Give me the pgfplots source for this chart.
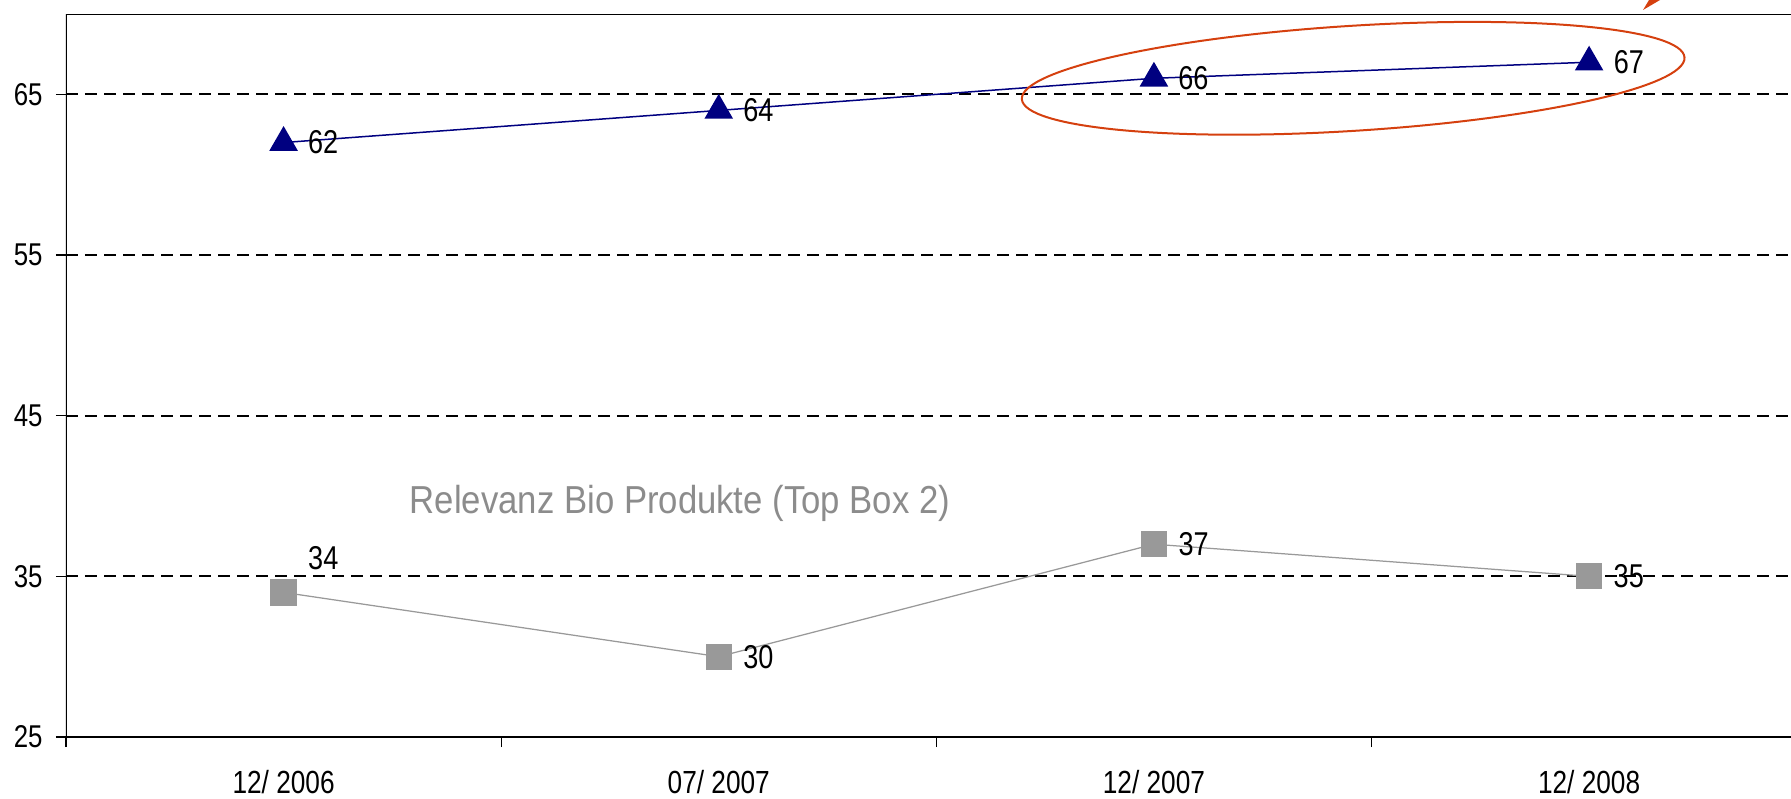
\documentclass[border=0pt]{standalone}
\usepackage{fontspec}
\setmainfont{Liberation Sans}
\newfontfamily\narrow[FakeStretch=0.82]{Liberation Sans}
\newfontfamily\medfont[FakeStretch=0.89]{Liberation Sans}
\usepackage{pgfplots}
\pgfplotsset{compat=1.18}
\definecolor{navyc}{HTML}{000080}
\definecolor{grayc}{HTML}{999999}
\definecolor{redc}{HTML}{D5400F}
\definecolor{txtgray}{HTML}{8C8C8C}
\begin{document}
\begin{tikzpicture}
\path[use as bounding box] (0,0) rectangle (716.4pt,319.2pt);
\begin{axis}[
  at={(26.4pt,24.4pt)}, anchor=south west,
  scale only axis, width=690pt, height=289.2pt,
  xmin=-0.5, xmax=3.464, ymin=25, ymax=70,
  axis line style={draw=none},
  /pgf/number format/assume math mode=true,
  tick align=outside,
  major tick length=4pt,
  tick style={black, line width=0.5pt},
  ytick={25,35,45,55,65},
  ytick pos=left,
  yticklabel style={font=\narrow\fontsize{12.6}{14}\selectfont, anchor=east, inner sep=0pt, xshift=-5.2pt},
  xtick={-0.5,0.5,1.5,2.5},
  xticklabels={},
  xtick pos=bottom,
  extra x ticks={0,1,2,3},
  extra x tick labels={12/ 2006,07/ 2007,12/ 2007,12/ 2008},
  extra x tick style={major tick length=0pt, xticklabel style={font=\narrow\fontsize{12.8}{14}\selectfont, anchor=north, inner sep=0pt, yshift=-13pt}},
  ymajorgrids,
  major grid style={black, line width=0.7pt, dash pattern=on 4.8pt off 2.8pt},
  nodes near coords,
  point meta=y,
  visualization depends on={value \thisrow{dx}\as\dx},
  visualization depends on={value \thisrow{dy}\as\dy},
  every node near coord/.append style={font=\narrow\fontsize{13.2}{15}\selectfont, black, anchor=west, inner sep=0pt, xshift=\dx pt, yshift=\dy pt},
]
\addplot[navyc, line width=0.6pt, mark=triangle*, mark size=6pt, mark options={fill=navyc, draw=navyc}] table {
x y dx dy
0 62 9.5 0
1 64 9.5 0
2 66 9.5 0
3 67 9.6 0
};
\addplot[grayc, line width=0.5pt, mark=square*, mark size=5pt, mark options={fill=grayc, draw=grayc}] table {
x y dx dy
0 34 9.6 13.6
1 30 9.6 0
2 37 9.6 0
3 35 9.6 0
};
\node[anchor=base, inner sep=0pt, text=txtgray, font=\medfont\fontsize{15.6}{18}\selectfont] at (axis cs:0.911,38.9) {Relevanz Bio Produkte (Top Box 2)};
\draw[black, line width=0.8pt] (rel axis cs:0,0) -- (rel axis cs:0,1);
\draw[black, line width=0.9pt] (rel axis cs:0,0) -- (rel axis cs:1,0);
\draw[black, line width=0.8pt] (rel axis cs:0,1) -- (rel axis cs:1,1);
\coordinate (ec) at (axis cs:2.458,66.0);
\end{axis}
\draw[redc, line width=0.8pt, rotate around={3.6:(ec)}] (ec) ellipse [x radius=132.8pt, y radius=21pt];
\fill[redc] (657.2pt,315.2pt) -- (662pt,323.2pt) -- (667.4pt,321.2pt) -- cycle;
\end{tikzpicture}
\end{document}
